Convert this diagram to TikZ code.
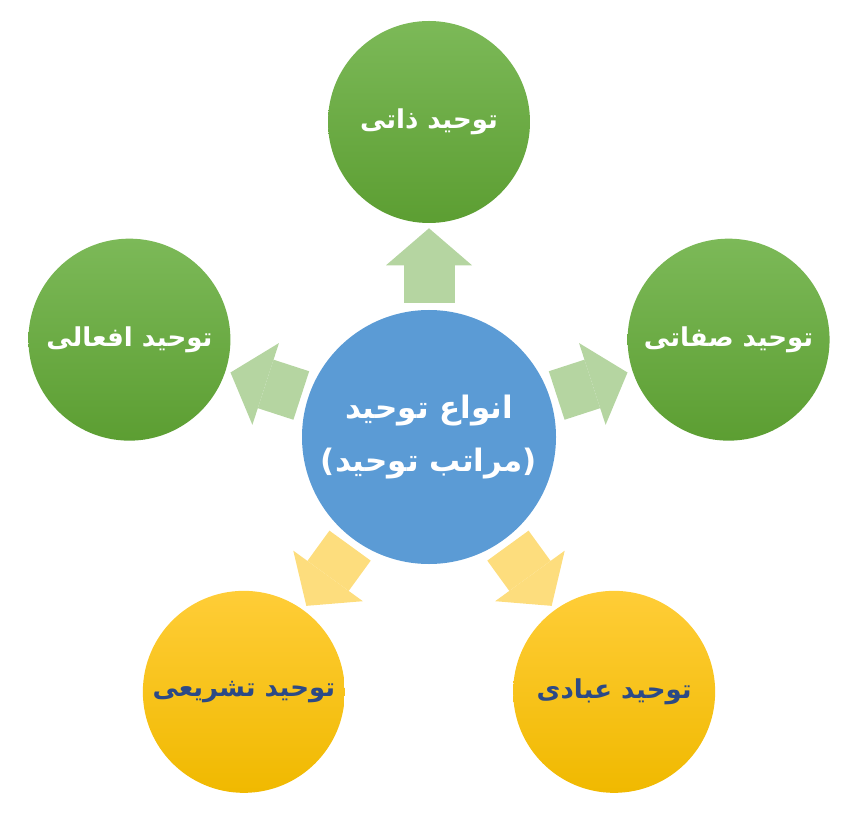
\documentclass[tikz,border=0pt]{standalone}
\usepackage{fontspec}
\usetikzlibrary{arrows.meta}
\newfontfamily\fafont[Script=Arabic]{DejaVu Sans}
\TeXXeTstate=1
\definecolor{greenTop}{RGB}{124,185,88}
\definecolor{greenBot}{RGB}{92,158,50}
\definecolor{yellowTop}{RGB}{255,205,55}
\definecolor{yellowBot}{RGB}{240,185,0}
\definecolor{hubBlue}{RGB}{91,155,213}
\definecolor{arrowGreen}{RGB}{181,213,161}
\definecolor{arrowYellow}{RGB}{253,221,125}
\definecolor{navy}{RGB}{44,74,134}
\tikzset{bubble/.style = {circle, minimum size = 5.05cm, inner sep = 0,
                          font = \fafont\bfseries\fontsize{18.5}{22}\selectfont}}
\tikzset{greenbubble/.style = {bubble, top color = greenTop, bottom color = greenBot, text = white}}
\tikzset{yellowbubble/.style = {bubble, top color = yellowTop, bottom color = yellowBot, text = navy}}
\tikzset{hub/.style = {circle, fill = hubBlue, minimum size = 6.35cm, inner sep = 0, text = white,
                       align = center, font = \fafont\bfseries\fontsize{22}{38}\selectfont}}
\tikzset{blockarrow/.style = {line width = 1.275cm, shorten < = 0.175cm, shorten > = 0.125cm,
                              -{Triangle[length = 0.925cm, width = 2.15cm, line width = 0pt]}}}

\begin{document}
\begin{tikzpicture}
    \useasboundingbox (-10.725, -9.6) rectangle (10.85, 10.925);

    \node [hub] (anwa) at (0, 0) {\beginR انواع توحید\endR\\\beginR (مراتب توحید)\endR};

    \node [greenbubble] (zati) at (90:7.875) {\beginR توحید ذاتی\endR};
    \node [greenbubble] (sefati) at (18:7.875) {\beginR توحید صفاتی\endR};
    \node [greenbubble] (afali) at (162:7.875) {\beginR توحید افعالی\endR};
    \node [yellowbubble] (tashrii) at (234:7.875) {\beginR توحید تشریعی\endR};
    \node [yellowbubble] (ebadi) at (306:7.875) {\beginR توحید عبادی\endR};

    \draw [blockarrow, arrowGreen] (anwa) -- (zati);
    \draw [blockarrow, arrowGreen] (anwa) -- (sefati);
    \draw [blockarrow, arrowGreen] (anwa) -- (afali);
    \draw [blockarrow, arrowYellow] (anwa) -- (tashrii);
    \draw [blockarrow, arrowYellow] (anwa) -- (ebadi);
\end{tikzpicture}
\end{document}
